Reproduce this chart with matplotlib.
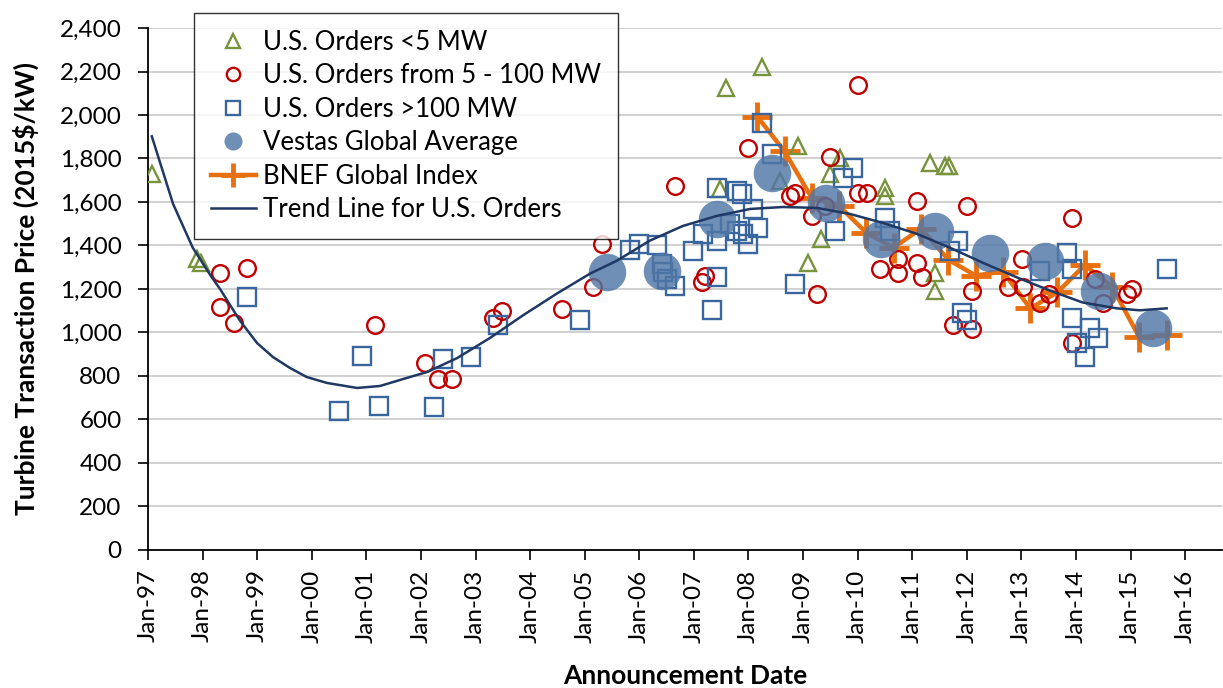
import matplotlib
matplotlib.use("Agg")
import matplotlib.pyplot as plt
from matplotlib.ticker import FuncFormatter

plt.rcParams['font.family'] = ['Lato', 'DejaVu Sans']

# U.S. orders < 5 MW (decimal year, 2015$/kW)
small_year = [1997.07, 1997.90, 1997.97, 2007.59, 2008.25, 2008.90, 2008.58, 2007.48,
              2009.67, 2009.49, 2009.33, 2009.09, 2010.50, 2010.50, 2011.32, 2011.60,
              2011.67, 2011.41, 2011.41]
small_price = [1728, 1339, 1321, 2126, 2222, 1856, 1696, 1659,
               1801, 1728, 1431, 1321, 1664, 1627, 1778, 1765,
               1765, 1275, 1193]

# U.S. orders 5 - 100 MW
mid_year = [1998.32, 1998.81, 1998.32, 1998.58, 2001.16, 2002.07, 2002.31, 2002.57,
            2003.32, 2003.48, 2004.58, 2005.15, 2005.32, 2006.65, 2007.20, 2007.15,
            2007.99, 2008.76, 2008.85, 2009.16, 2009.49, 2009.40, 2009.25, 2010.00,
            2010.00, 2010.17, 2011.08, 2012.00, 2010.74, 2010.41, 2010.74, 2011.08,
            2011.18, 2012.09, 2011.74, 2012.09, 2013.01, 2012.75, 2013.03, 2013.34,
            2013.50, 2013.92, 2014.34, 2014.49, 2013.92, 2014.93, 2015.02]
mid_price = [1275, 1298, 1115, 1042, 1033, 859, 786, 786,
             1065, 1097, 1106, 1207, 1408, 1673, 1262, 1230,
             1847, 1627, 1641, 1536, 1806, 1582, 1179, 2139,
             1641, 1641, 1605, 1582, 1339, 1294, 1275, 1321,
             1253, 1193, 1033, 1015, 1339, 1207, 1207, 1134,
             1175, 1527, 1248, 1134, 951, 1179, 1202]

# U.S. orders > 100 MW
large_year = [1998.81, 2000.50, 2000.92, 2001.23, 2002.24, 2002.40, 2002.92, 2003.41,
              2004.91, 2005.83, 2005.99, 2006.32, 2006.41, 2006.43, 2006.51, 2006.65,
              2006.98, 2007.16, 2007.42, 2007.42, 2007.42, 2007.33, 2007.79, 2007.88,
              2007.66, 2007.79, 2007.90, 2008.08, 2008.17, 2007.99, 2008.25, 2008.43,
              2008.85, 2009.58, 2009.91, 2009.73, 2010.50, 2010.59, 2011.84, 2011.69,
              2011.91, 2012.00, 2013.34, 2013.83, 2013.92, 2013.92, 2014.25, 2014.40,
              2014.01, 2014.16, 2015.66]
large_price = [1161, 640, 891, 663, 658, 878, 887, 1033,
               1056, 1381, 1408, 1403, 1316, 1280, 1248, 1216,
               1376, 1453, 1664, 1421, 1253, 1102, 1650, 1636,
               1499, 1467, 1453, 1568, 1481, 1408, 1961, 1819,
               1225, 1467, 1755, 1710, 1527, 1467, 1421, 1376,
               1088, 1056, 1285, 1367, 1294, 1065, 1019, 974,
               951, 887, 1294]

# Vestas global average
vestas_year = [2005.41, 2006.41, 2007.42, 2008.43, 2009.42, 2010.42, 2011.41,
               2012.42, 2013.43, 2014.42, 2015.41]
vestas_price = [1280, 1285, 1522, 1733, 1595, 1431, 1467, 1367, 1330, 1193, 1019]

# BNEF global index (half-yearly)
bnef_year = [2008.16, 2008.66, 2009.16, 2009.66, 2010.16, 2010.66, 2011.16, 2011.66,
             2012.16, 2012.66, 2013.16, 2013.66, 2014.16, 2014.66, 2015.16, 2015.66]
bnef_price = [1993, 1833, 1618, 1582, 1458, 1390, 1478, 1335,
              1262, 1280, 1111, 1185, 1310, 1210, 978, 987]

# trend line for U.S. orders
trend_year = [1997.07, 1997.46, 1997.82, 1998.17, 1998.32, 1998.68, 1999.00, 1999.29,
              1999.60, 1999.91, 2000.28, 2000.83, 2001.25, 2001.74, 2002.11, 2002.66,
              2003.26, 2003.87, 2004.49, 2005.10, 2005.59, 2006.19, 2006.80, 2007.42,
              2008.03, 2008.63, 2009.25, 2009.86, 2010.46, 2011.08, 2011.69, 2012.29,
              2012.92, 2013.52, 2014.12, 2014.75, 2015.17, 2015.66]
trend_price = [1902, 1591, 1390, 1253, 1200, 1056, 951, 887,
               837, 795, 768, 745, 754, 791, 818, 882,
               974, 1079, 1179, 1271, 1330, 1422, 1490, 1536,
               1568, 1577, 1573, 1545, 1504, 1454, 1390, 1321,
               1253, 1193, 1138, 1111, 1102, 1111]

tick_years = list(range(1997, 2017))
tick_labels = ['Jan-%02d' % (y % 100) for y in tick_years]

fig = plt.figure(figsize=(12.23, 6.88), dpi=100)
ax = fig.add_axes([0.121, 0.2006, 0.878, 0.7587])

ax.plot(bnef_year, bnef_price, color='#E8700F', lw=3.2, marker='+', ms=22, mew=3.5,
        label='BNEF Global Index', zorder=2)
ax.plot(small_year, small_price, ls='none', marker='^', ms=12, mfc='none', mec='#77933C',
        mew=1.7, label='U.S. Orders <5 MW', zorder=3)
ax.plot(mid_year, mid_price, ls='none', marker='o', ms=12, mfc='none', mec='#C00000',
        mew=1.7, label='U.S. Orders from 5 - 100 MW', zorder=4)
ax.plot(large_year, large_price, ls='none', marker='s', ms=13, mfc='none', mec='#3A66A0',
        mew=1.7, label='U.S. Orders >100 MW', zorder=5)
ax.plot(vestas_year, vestas_price, ls='none', marker='o', ms=27, mfc='#4F76A6', mec='none',
        alpha=0.82, label='Vestas Global Average', zorder=6)
ax.plot(trend_year, trend_price, color='#1F3864', lw=1.8, label='Trend Line for U.S. Orders',
        zorder=7)

ax.set_xlim(1997, 2016.67)
ax.set_ylim(0, 2400)
ax.set_yticks(range(0, 2401, 200))
ax.yaxis.set_major_formatter(FuncFormatter(lambda v, p: '{:,.0f}'.format(v)))
ax.set_xticks(tick_years)
ax.set_xticklabels(tick_labels, rotation=90)
ax.tick_params(axis='both', labelsize=17.5, direction='out', length=7, width=1.2)
ax.tick_params(axis='y', pad=12)
ax.tick_params(axis='x', pad=7)
ax.grid(axis='y', color='#D0D0D0', lw=1.4)
ax.set_axisbelow(True)
for s in ['top', 'right']:
    ax.spines[s].set_visible(False)
ax.spines['left'].set_linewidth(1.3)
ax.spines['bottom'].set_linewidth(1.3)

ax.set_xlabel('Announcement Date', fontsize=19, fontweight='bold', labelpad=15)
ax.set_ylabel('Turbine Transaction Price (2015$/kW)', fontsize=19, fontweight='bold', labelpad=15)

h, l = ax.get_legend_handles_labels()
order = [1, 2, 3, 4, 0, 5]
leg = ax.legend([h[i] for i in order], [l[i] for i in order], loc='upper left',
                bbox_to_anchor=(0.0428, 1.0287), fontsize=18.5, frameon=True, fancybox=False,
                edgecolor='black', borderaxespad=0, borderpad=0.65, handlelength=1.75,
                handletextpad=0.3, labelspacing=0.33, markerscale=0.8)
leg.get_frame().set_linewidth(1.0)
leg.legend_handles[3].set_markersize(13)

fig.savefig('out.png', dpi=100)
